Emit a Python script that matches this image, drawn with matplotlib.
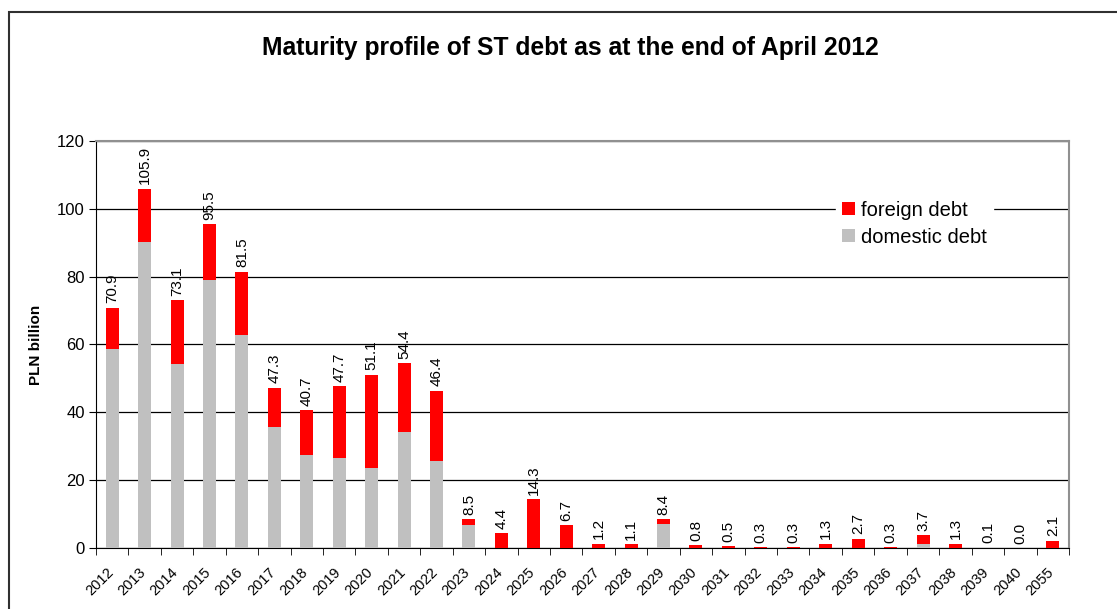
import matplotlib

matplotlib.use("Agg")
import matplotlib.pyplot as plt
import matplotlib.transforms as mtransforms
import numpy as np
from matplotlib.patches import Rectangle

plt.rcParams["font.family"] = ["Liberation Sans", "DejaVu Sans"]

# maturity years (categories) and debt by year, PLN billion
years = [str(y) for y in range(2012, 2041)] + ["2055"]
total_debt = [70.9, 105.9, 73.1, 95.5, 81.5, 47.3, 40.7, 47.7, 51.1, 54.4,
              46.4, 8.5, 4.4, 14.3, 6.7, 1.2, 1.1, 8.4, 0.8, 0.5,
              0.3, 0.3, 1.3, 2.7, 0.3, 3.7, 1.3, 0.1, 0.0, 2.1]
domestic_debt = [58.8, 90.1, 54.2, 79.1, 62.7, 35.6, 27.5, 26.4, 23.5, 34.1,
                 25.5, 6.7, 0.0, 0.0, 0.0, 0.0, 0.0, 7.1, 0.0, 0.0,
                 0.0, 0.0, 0.0, 0.0, 0.0, 1.2, 0.0, 0.0, 0.0, 0.0]
foreign_debt = [t - d for t, d in zip(total_debt, domestic_debt)]

fig = plt.figure(figsize=(11.17, 6.09), dpi=100)
ax = fig.add_axes([0.0859, 0.1002, 0.8711, 0.6683])

x = np.arange(len(years))
ax.bar(x, domestic_debt, width=0.4, color="#c0c0c0", label="domestic debt", zorder=3)
ax.bar(x, foreign_debt, width=0.4, bottom=domestic_debt, color="#ff0000",
       label="foreign debt", zorder=3)

for xi, t in zip(x, total_debt):
    ax.text(xi, t + 1.3, f"{t:.1f}", rotation=90, ha="center", va="bottom",
            fontsize=11, color="#000000")

ax.set_xlim(-0.5, len(years) - 0.5)
ax.set_ylim(0, 120)
ax.set_yticks(range(0, 121, 20))
ax.tick_params(axis="y", direction="out", length=5, labelsize=12, pad=3)
ax.set_xticks(x)
ax.set_xticklabels(years, rotation=45, ha="right", rotation_mode="anchor", fontsize=10.5)
ax.set_xticks(np.arange(-0.5, len(years), 1.0), minor=True)
ax.tick_params(axis="x", which="major", length=0, pad=10)
ax.tick_params(axis="x", which="minor", direction="out", length=5)
shift = mtransforms.ScaledTranslation(-6 / 100, -3 / 100, fig.dpi_scale_trans)
for lbl in ax.get_xticklabels():
    lbl.set_transform(lbl.get_transform() + shift)

ax.yaxis.grid(True, color="#000000", lw=0.9, zorder=0)
ax.spines["left"].set_color("#000000")
ax.spines["bottom"].set_color("#000000")
ax.spines["top"].set_color("#909090")
ax.spines["right"].set_color("#909090")
ax.spines["top"].set_linewidth(1.5)
ax.spines["right"].set_linewidth(1.5)

ax.set_ylabel("PLN billion", fontsize=11, fontweight="bold", labelpad=10)

handles, labels = ax.get_legend_handles_labels()
leg = ax.legend(handles[::-1], labels[::-1], loc="upper left",
                bbox_to_anchor=(0.750, 0.893), frameon=True, fontsize=14.5,
                handlelength=0.65, handleheight=0.65, handletextpad=0.3,
                labelspacing=0.4, borderpad=0.3, fancybox=False)
leg.get_frame().set_edgecolor("white")
leg.get_frame().set_facecolor("white")
leg.get_frame().set_alpha(1)

fig.text(0.511, 0.921, "Maturity profile of ST debt as at the end of April 2012",
         ha="center", va="center", fontsize=17.7, fontweight="bold")

fig.patches.append(Rectangle((9 / 1117, -0.1), 1.2, (609 - 12) / 609 + 0.1,
                             transform=fig.transFigure, fill=False,
                             edgecolor="#303030", lw=1.5))

fig.savefig("out.png", dpi=100)
